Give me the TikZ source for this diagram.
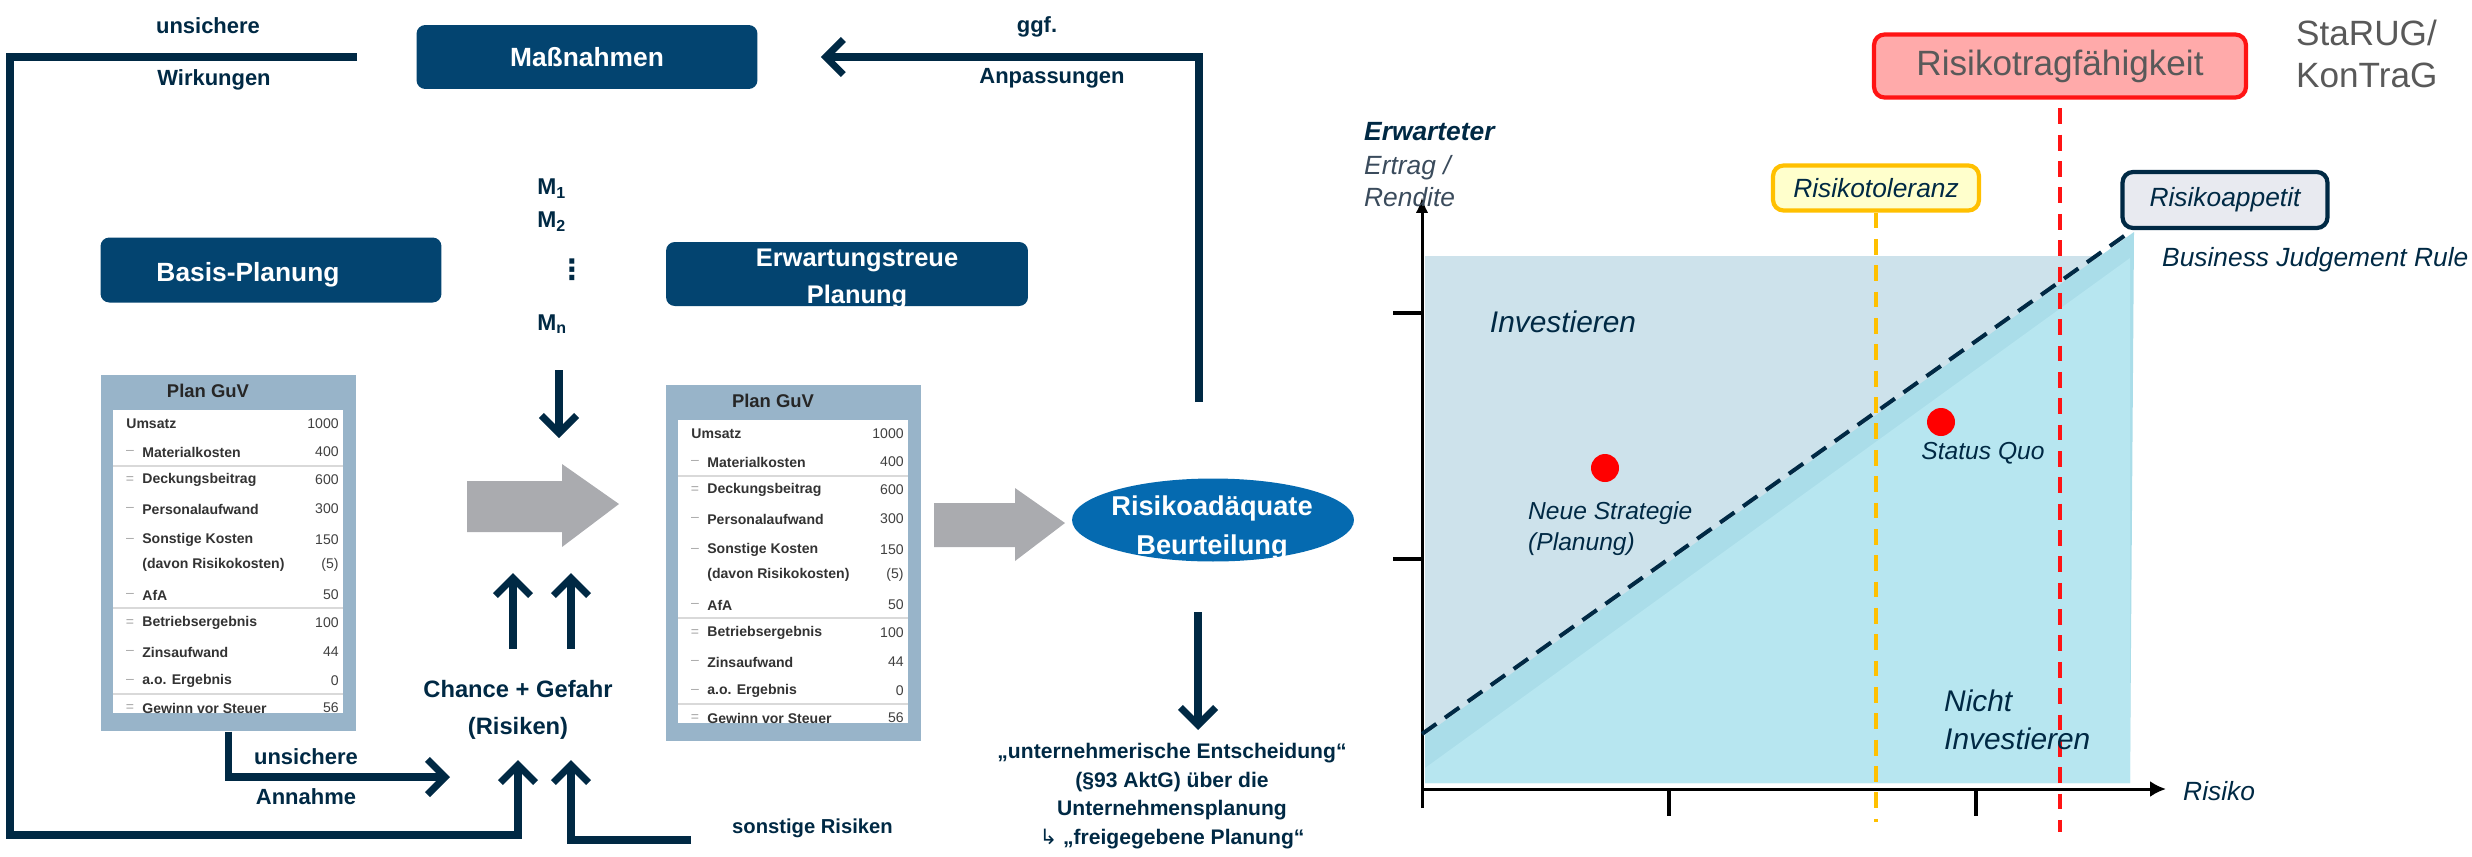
\documentclass[tikz,border=0pt]{standalone}
\usepackage{fontspec}
\setmainfont{Liberation Sans}
\newfontfamily\symfont{DejaVu Sans}
\usetikzlibrary{arrows.meta,shapes.geometric,positioning}

\definecolor{navy}{RGB}{0,41,68}
\definecolor{boxblue}{RGB}{3,68,112}
\definecolor{ellblue}{RGB}{5,106,176}
\definecolor{frameblue}{RGB}{152,180,201}
\definecolor{arrowgrey}{RGB}{170,171,175}
\definecolor{zoneblue}{RGB}{205,226,235}
\definecolor{bandcyan}{RGB}{170,221,233}
\definecolor{zonecyan}{RGB}{183,230,240}
\definecolor{tolfill}{RGB}{255,255,204}
\definecolor{tolline}{RGB}{255,192,0}
\definecolor{tragfill}{RGB}{255,170,170}
\definecolor{tragline}{RGB}{255,20,20}
\definecolor{appfill}{RGB}{232,234,240}
\definecolor{textgrey}{RGB}{89,89,89}
\definecolor{labelgrey}{RGB}{58,75,92}

\tikzset{
  navyline/.style={draw=navy, line width=4pt, line join=miter},
  navyarrow/.style={navyline, -{Straight Barb[length=10pt,width=20pt,line width=4pt]}},
  titlebox/.style={fill=boxblue, rounded corners=5pt, inner sep=0pt},
  boxtext/.style={text=white, font=\bfseries\fontsize{15}{21}\selectfont, align=center},
  flowtext/.style={text=navy, font=\bfseries\fontsize{12.5}{15}\selectfont, align=center},
  mtext/.style={text=navy, anchor=west, inner sep=0pt, font=\bfseries\fontsize{13}{15}\selectfont},
  guvframe/.style={fill=frameblue, anchor=north west, minimum width=5.1cm, minimum height=7.12cm, inner sep=0pt},
  guvinner/.style={fill=white, anchor=north west, minimum width=4.6cm, minimum height=6.06cm, inner sep=0pt},
  guvtitle/.style={text=black!85, font=\bfseries\fontsize{10.5}{12}\selectfont},
  guvrow/.style={anchor=west, inner sep=0pt, text=black!80, font=\bfseries\fontsize{8}{9}\selectfont},
  guvnum/.style={anchor=east, inner sep=0pt, text=black!75, font=\fontsize{8}{9}\selectfont},
  guvsign/.style={inner sep=0pt, text=black!35, font=\fontsize{8}{9}\selectfont},
  guvsep/.style={draw=black!15, line width=0.8pt},
  chartaxis/.style={draw=black, line width=1.7pt},
  charttick/.style={draw=black, line width=2.5pt},
  chartbox/.style={rounded corners=6pt, line width=2.4pt, inner sep=0pt},
  charttext/.style={text=navy, font=\itshape\fontsize{15}{18}\selectfont, align=left},
  riskdot/.style={circle, fill=red, inner sep=0pt, minimum size=0.56cm},
}

% Plan GuV table, #1 = name, #2 = top left corner
\newcommand{\guvtable}[2]{%
  \begin{scope}[shift={#2}]
    \node[guvframe] (#1) at (0,0) {};
    \node[guvinner] (#1-in) at (12,35) {};
    \node[guvtitle] (#1-title) at (107,16) {Plan GuV};
    \node[guvrow] (#1-r1) at (25,49) {Umsatz};
    \node[guvnum] (#1-v1) at (238,49) {1000};
    \foreach \y/\s/\txt/\val [count=\i from 2] in {77/–/Materialkosten/400,
        105/=/Deckungsbeitrag/600, 134/–/Personalaufwand/300,
        165/–/Sonstige Kosten/150, 190//(davon Risikokosten)/(5),
        220/–/AfA/50, 248/=/Betriebsergebnis/100, 277/–/Zinsaufwand/44,
        306/–/a.o. Ergebnis/0, 333/=/Gewinn vor Steuer/56}{
      \node[guvsign] (#1-s\i) at (29,\y) {\s};
      \node[guvrow] (#1-r\i) at (41,\y) {\txt};
      \node[guvnum] (#1-v\i) at (238,\y) {\val};
    }
    \foreach \y in {91,233,319}
      \draw[guvsep] (12,\y) -- (242,\y);
  \end{scope}}

\begin{document}
\begin{tikzpicture}[x=0.02cm, y=-0.02cm]
  \useasboundingbox (0,0) rectangle (2472,856);

  % planning boxes
  \node[titlebox, minimum width=6.82cm, minimum height=1.28cm, boxtext] (mass) at (587,57) {Maßnahmen};
  \node[titlebox, minimum width=6.82cm, minimum height=1.3cm] (basis) at (271,270) {};
  \node[boxtext] (basisText) at (248,275) {Basis-Planung};
  \node[titlebox, minimum width=7.24cm, minimum height=1.28cm] (erw) at (847,274) {};
  \node[boxtext, font=\bfseries\fontsize{14.5}{21}\selectfont] (erwText) at (857,279) {Erwartungstreue\\Planung};

  \guvtable{guvL}{(101,375)}
  \guvtable{guvR}{(666,385)}

  % measures
  \node[mtext] (m1) at (537,189) {M\textsubscript{1}};
  \node[mtext] (m2) at (537,222) {M\textsubscript{2}};
  \node[text=navy, inner sep=0pt, font=\symfont\bfseries\fontsize{16}{18}\selectfont] (mdots) at (572,270) {⋮};
  \node[mtext] (mn) at (537,324) {M\textsubscript{n}};

  % grey block arrows
  \fill[arrowgrey] (467,481) -- (562,481) -- (562,464) -- (619,504) -- (562,547) -- (562,532) -- (467,532) -- cycle;
  \fill[arrowgrey] (934,503) -- (1015,503) -- (1015,488) -- (1065,523) -- (1015,561) -- (1015,547) -- (934,547) -- cycle;

  \node[ellipse, fill=ellblue, minimum width=5.64cm, minimum height=1.66cm, inner sep=0pt] (beurt) at (1213,520) {};
  \node[boxtext, font=\bfseries\fontsize{15.5}{22}\selectfont] (beurtText) at (1212,528) {Risikoadäquate\\Beurteilung};

  % labels
  \node[flowtext] (wirkTop) at (208,26) {unsichere};
  \node[flowtext] (wirkBot) at (214,80) {Wirkungen};
  \node[flowtext] (anpTop) at (1037,27) {ggf.};
  \node[flowtext] (anpBot) at (1052,78) {Anpassungen};
  \node[flowtext] (annTop) at (306,757) {unsichere};
  \node[flowtext] (annBot) at (306,797) {Annahme};
  \node[flowtext, font=\bfseries\fontsize{13.5}{21}\selectfont] (chance) at (518,710) {Chance + Gefahr\\(Risiken)};
  \node[flowtext, anchor=west, font=\bfseries\fontsize{11.5}{14}\selectfont] (sonst) at (726,828) {sonstige Risiken};
  \node[flowtext, font=\bfseries\fontsize{12}{16.2}\selectfont] (entsch) at (1172,796)
    {„unternehmerische Entscheidung“\\(§93 AktG) über die\\Unternehmensplanung\\{\symfont\mdseries ↳} „freigegebene Planung“};

  % arrows
  \coordinate (wirkStart) at (357,57);
  \coordinate (riskL) at (518,760);
  \coordinate (sonstStart) at (691,840);
  \coordinate (riskR) at (571,760);
  \coordinate (annahmeTip) at (450,777);
  \coordinate (anpStart) at (1199,402);
  \coordinate (mTop) at (559,370);
  \coordinate (mTip) at (559,438);
  \coordinate (upL) at (513,649);
  \coordinate (upLTip) at (513,573);
  \coordinate (upR) at (571,649);
  \coordinate (upRTip) at (571,573);
  \coordinate (decTop) at (1198,612);
  \coordinate (decTip) at (1198,730);

  \draw[navyarrow] (wirkStart) -| (10,835) -| (riskL);
  \draw[navyarrow] (sonstStart) -| (riskR);
  \draw[navyarrow] (guvL.south) |- (annahmeTip);
  \draw[navyarrow, shorten >=1.26cm] (anpStart) |- (mass.east);
  \draw[navyarrow] (mTop) -- (mTip);
  \draw[navyarrow] (upL) -- (upLTip);
  \draw[navyarrow] (upR) -- (upRTip);
  \draw[navyarrow] (decTop) -- (decTip);

  % risk chart
  \fill[zoneblue] (1425,256) rectangle (2130,783);
  \fill[bandcyan] (1425,735) -- (2134,232) -- (2130,783) -- (1425,783) -- cycle;
  \fill[zonecyan] (1425,768) -- (2130,258) -- (2130,783) -- (1425,783) -- cycle;

  \draw[chartaxis, -{Latex[length=9pt,width=7pt]}] (1422,808) -- (1422,197);
  \draw[chartaxis, -{Latex[length=9pt,width=9pt]}] (1422,789) -- (2166,789);
  \foreach \y in {313,559}
    \draw[charttick] (1393,\y) -- (1422,\y);
  \foreach \x in {1669,1976}
    \draw[charttick] (\x,789) -- (\x,816);

  \node[chartbox, draw=tragline, fill=tragfill, minimum width=7.44cm, minimum height=1.26cm,
    text=textgrey, font=\fontsize{20}{24}\selectfont] (tragf) at (2060,66) {Risikotragfähigkeit};
  \node[anchor=west, text=textgrey, align=left, font=\fontsize{20}{23.5}\selectfont] (gesetz) at (2290,54) {StaRUG/\\KonTraG};
  \node[chartbox, draw=tolline, fill=tolfill, minimum width=4.12cm, minimum height=0.9cm,
    charttext] (tol) at (1876,188) {Risikotoleranz};
  \node[chartbox, draw=navy, fill=appfill, minimum width=4.1cm, minimum height=1.12cm,
    charttext] (appetit) at (2225,200) {Risikoappetit};

  \coordinate (tolEnd) at (1876,822);
  \coordinate (tragEnd) at (2060,832);
  \coordinate (bjrStart) at (1422,734);
  \draw[draw=tolline, line width=2.2pt, dash pattern=on 9pt off 6pt] (tol.south) -- (tolEnd);
  \draw[draw=tragline, line width=2.2pt, dash pattern=on 9pt off 6pt, shorten <=5pt] (tragf.south) -- (tragEnd);
  \draw[draw=navy, line width=2.3pt, dash pattern=on 10pt off 6pt] (bjrStart) -- ([xshift=0.24cm]appetit.south west);

  \node[riskdot] (quo) at (1941,422) {};
  \node[riskdot] (neu) at (1605,468) {};

  \node[anchor=west, text=navy, font=\bfseries\itshape\fontsize{15}{18}\selectfont] (yTitle) at (1358,132) {Erwarteter};
  \node[anchor=west, text=labelgrey, align=left, font=\itshape\fontsize{15}{18.5}\selectfont] (yLabel) at (1358,181) {Ertrag /\\Rendite};
  \node[charttext] (invest) at (1563,322) {\fontsize{17}{20}\selectfont Investieren};
  \node[charttext, anchor=west, font=\itshape\fontsize{17}{21.5}\selectfont] (nichtInvest) at (1938,720) {Nicht\\Investieren};
  \node[charttext, anchor=west, font=\itshape\fontsize{14}{17.5}\selectfont] (neuText) at (1522,529) {Neue Strategie\\(Planung)};
  \node[charttext, font=\itshape\fontsize{14}{17}\selectfont] (quoText) at (1983,453) {Status Quo};
  \node[charttext, anchor=west] (bjr) at (2156,260) {Business Judgement Rule};
  \node[charttext, anchor=west] (risiko) at (2177,791) {Risiko};
\end{tikzpicture}
\end{document}
